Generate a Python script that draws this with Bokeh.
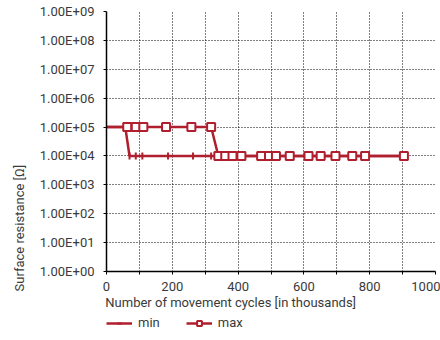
from math import pi
from bokeh.plotting import figure
from bokeh.layouts import column
from bokeh.models import FixedTicker, Legend, LegendItem, Range1d, Title
from bokeh.embed import file_html
from bokeh.resources import INLINE

# ---- data (thousands of cycles, surface resistance in ohm) ----
min_x = [0, 57, 70, 89, 109, 187, 263, 318, 340, 361, 383, 410, 470, 494, 515, 557, 614, 651, 696, 747, 786, 904]
min_y = [1e5, 1e5, 1e4, 1e4, 1e4, 1e4, 1e4, 1e4, 1e4, 1e4, 1e4, 1e4, 1e4, 1e4, 1e4, 1e4, 1e4, 1e4, 1e4, 1e4, 1e4, 1e4]
max_x = [0, 63, 89, 112, 181, 258, 318, 340, 361, 383, 410, 470, 494, 515, 557, 614, 651, 696, 747, 786, 904]
max_y = [1e5, 1e5, 1e5, 1e5, 1e5, 1e5, 1e5, 1e4, 1e4, 1e4, 1e4, 1e4, 1e4, 1e4, 1e4, 1e4, 1e4, 1e4, 1e4, 1e4, 1e4]
series_names = ["min", "max"]

y_ticks = [1e0, 1e1, 1e2, 1e3, 1e4, 1e5, 1e6, 1e7, 1e8, 1e9]
y_labels = ["1.00E+00", "1.00E+01", "1.00E+02", "1.00E+03", "1.00E+04",
            "1.00E+05", "1.00E+06", "1.00E+07", "1.00E+08", "1.00E+09"]
x_ticks = [0, 100, 200, 300, 400, 500, 600, 700, 800, 900, 1000]
x_labels = ["0", "", "200", "", "400", "", "600", "", "800", "", "1000"]

x_title = "Number of movement cycles [in thousands]"
y_title = "Surface resistance [\u03a9]"

RED = "#b01f2e"
TXT = "#3a3a3a"
FONT = "Roboto"
NB = "\u00a0"

p = figure(width=440, height=312, y_axis_type="log",
           x_range=Range1d(0, 1000), y_range=Range1d(1, 1e9),
           output_backend="svg", toolbar_location=None,
           min_border_left=106, min_border_right=5, min_border_top=11, min_border_bottom=0)
p.outline_line_color = None
p.background_fill_color = "white"

# axes
p.xaxis.ticker = FixedTicker(ticks=x_ticks)
p.xaxis.major_label_overrides = {t: l for t, l in zip(x_ticks, x_labels)}
p.yaxis.ticker = FixedTicker(ticks=y_ticks)
p.yaxis.major_label_overrides = {t: l for t, l in zip(y_ticks, y_labels)}
for ax in (p.xaxis, p.yaxis):
    ax.axis_line_color = "black"
    ax.axis_line_width = 1.5
    ax.major_tick_line_color = "black"
    ax.major_tick_out = 3
    ax.major_tick_in = 0
    ax.minor_tick_line_color = None
    ax.major_label_text_font = FONT
    ax.major_label_text_font_size = "13px"
    ax.major_label_text_color = TXT
    ax.axis_label_text_font = FONT
    ax.axis_label_text_font_size = "13px"
    ax.axis_label_text_font_style = "normal"
    ax.axis_label_text_color = TXT
p.xaxis.major_label_standoff = 7
p.yaxis.major_label_standoff = 9
p.xaxis.axis_label = x_title + NB * 25
p.xaxis.axis_label_standoff = 1

# y-axis title as a side title, starting below the frame bottom
p.add_layout(Title(text=y_title, align="left", offset=-20, standoff=19,
                   text_font=FONT, text_font_size="13px", text_font_style="normal",
                   text_color=TXT), "left")

# grid
for g in (p.xgrid, p.ygrid):
    g.grid_line_color = "black"
    g.grid_line_dash = "1 2"
    g.grid_line_width = 1


def draw(fig):
    a = fig.line(min_x, min_y, line_color=RED, line_width=2.5)
    b = fig.scatter(min_x[2:], min_y[2:], marker="dash", angle=pi / 2, size=7,
                    line_color=RED, line_width=2)
    c = fig.line(max_x, max_y, line_color=RED, line_width=2.5)
    d = fig.scatter(max_x[1:], max_y[1:], marker="square", size=8,
                    line_color=RED, line_width=2, fill_color="white")
    return [a, b], [c, d]


draw(p)

# legend strip below the chart (its ranges keep the series off-canvas, only the legend shows)
lf = figure(width=440, height=28, x_range=Range1d(2000, 3000), y_range=Range1d(1e6, 1e7),
            output_backend="svg", toolbar_location=None,
            x_axis_location=None, y_axis_location=None,
            min_border_left=0, min_border_right=0, min_border_top=0, min_border_bottom=0)
lf.outline_line_color = None
lf.xgrid.visible = False
lf.ygrid.visible = False
rmin, rmax = draw(lf)
legend = Legend(items=[LegendItem(label=series_names[0], renderers=rmin),
                       LegendItem(label=series_names[1], renderers=rmax)],
                orientation="horizontal", location=(0, 10),
                border_line_color=None, background_fill_alpha=0,
                label_text_font=FONT, label_text_font_size="13px",
                label_text_color=TXT, glyph_width=26, glyph_height=12,
                label_height=12, padding=0, margin=0, spacing=26,
                label_standoff=6)
lf.add_layout(legend, "center")

open("out.html", "w").write(file_html(column(p, lf, spacing=0), INLINE))
